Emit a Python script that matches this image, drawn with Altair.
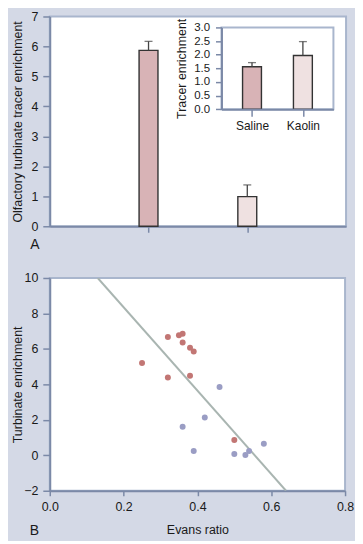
import altair as alt
import pandas as pd

# ---------------- data ----------------
groups = ["Saline", "Kaolin"]
olfactory_mean = [5.87, 0.99]
olfactory_err = [0.30, 0.39]
tracer_mean = [1.56, 1.97]
tracer_err = [0.15, 0.51]

saline_x = [0.25, 0.32, 0.35, 0.36, 0.36, 0.38, 0.39, 0.32, 0.38, 0.50]
saline_y = [5.20, 6.67, 6.77, 6.86, 6.36, 6.06, 5.85, 4.39, 4.49, 0.86]
kaolin_x = [0.46, 0.42, 0.36, 0.39, 0.50, 0.53, 0.54, 0.58]
kaolin_y = [3.85, 2.13, 1.61, 0.24, 0.07, 0.02, 0.24, 0.65]
fit_x = [0.13, 0.64]
fit_y = [10.0, -2.0]

yA_ticks = [0, 1, 2, 3, 4, 5, 6, 7]
inset_ticks = [0.0, 0.5, 1.0, 1.5, 2.0, 2.5, 3.0]
xB_ticks = [0.0, 0.2, 0.4, 0.6, 0.8]
yB_ticks = [-2, 0, 2, 4, 6, 8, 10]

# ---------------- styling ----------------
FONT = "Liberation Sans"
TXT = "#1a1a1a"
AXIS_C = "#7b89a7"
FRAME_C = "#a9b6cd"
BG = "#d4d9e6"
SAL_BAR = "#d8b3b6"
KAO_BAR = "#efe1e1"
SAL_PT = "#c27674"
KAO_PT = "#9a9dc4"
FIT_C = "#a9b5b1"

W_A, H_A = 298, 211
W_B, H_B = 297, 214
IX0, IX1 = 172.7, 285.3   # inset box (pixels inside panel A)
IY0, IY1 = 93.3, 11.0

bar_df = pd.DataFrame({
    "group": groups,
    "mean": olfactory_mean,
    "top": [m + e for m, e in zip(olfactory_mean, olfactory_err)],
})
inset_df = pd.DataFrame({
    "group": groups,
    "mean": tracer_mean,
    "top": [m + e for m, e in zip(tracer_mean, tracer_err)],
})
color_scale = alt.Scale(domain=groups, range=[SAL_BAR, KAO_BAR])

yaxis_common = dict(minExtent=25, maxExtent=25, titlePadding=0, tickSize=7, labelPadding=5,
                    labelOverlap=False, labelFontSize=12.5)

# ----- panel A main -----
xA_scale = alt.Scale(type="point", domain=groups, padding=1)
xA_axis = alt.Axis(labels=False, title=None, tickSize=6)
yA_scale = alt.Scale(domain=[0, 7])
yA_axis = alt.Axis(values=yA_ticks, title="Olfactory turbinate tracer enrichment", **yaxis_common)


def xa(f):
    return alt.X(f, scale=xA_scale, axis=xA_axis)


def ya(f):
    return alt.Y(f, scale=yA_scale, axis=yA_axis)


main_bars = alt.Chart(bar_df).mark_bar(size=19, stroke="#333333", strokeWidth=1.4).encode(
    x=xa("group:N"), y=ya("mean:Q"), color=alt.Color("group:N", scale=color_scale, legend=None))
main_rule = alt.Chart(bar_df).mark_rule(color="#444444", strokeWidth=1.3).encode(
    x=xa("group:N"), y=ya("mean:Q"), y2="top:Q")
main_cap = alt.Chart(bar_df).mark_tick(color="#444444", size=8, thickness=1.3).encode(
    x=xa("group:N"), y=ya("top:Q"))
letterA = alt.Chart(pd.DataFrame({"t": ["A"]})).mark_text(
    font=FONT, fontSize=14, color=TXT, align="center", baseline="alphabetic").encode(
    x=alt.value(-15), y=alt.value(H_A + 23), text="t:N")
main_layer = alt.layer(main_bars, main_rule, main_cap, letterA)

# ----- inset -----
xI_scale = alt.Scale(type="point", domain=groups, range=[IX0, IX1], padding=0.6)
xI_axis = alt.Axis(orient="bottom", offset=-(H_A - IY0), title=None, tickSize=7,
                   labelPadding=4, labelFontSize=12, labelAngle=0, zindex=2)
yI_scale = alt.Scale(domain=[0, 3], range=[IY0, IY1])
yI_axis = alt.Axis(orient="left", offset=-IX0, values=inset_ticks, format=".1f",
                   title="Tracer enrichment", tickSize=6, labelPadding=6, titlePadding=5,
                   labelFontSize=11.5, labelOverlap=False, zindex=2)


def xi(f):
    return alt.X(f, scale=xI_scale, axis=xI_axis)


def yi(f):
    return alt.Y(f, scale=yI_scale, axis=yI_axis)


inset_frame = alt.Chart(pd.DataFrame({"a": [0]})).mark_rect(
    fill="white", stroke=FRAME_C, strokeWidth=2).encode(
    x=alt.value(IX0), x2=alt.value(IX1), y=alt.value(IY1), y2=alt.value(IY0))
inset_bars = alt.Chart(inset_df).mark_bar(size=19, stroke="#333333", strokeWidth=1.4).encode(
    x=xi("group:N"), y=yi("mean:Q"), color=alt.Color("group:N", scale=color_scale, legend=None))
inset_rule = alt.Chart(inset_df).mark_rule(color="#444444", strokeWidth=1.3).encode(
    x=xi("group:N"), y=yi("mean:Q"), y2="top:Q")
inset_cap = alt.Chart(inset_df).mark_tick(color="#444444", size=8, thickness=1.3).encode(
    x=xi("group:N"), y=yi("top:Q"))
inset_layer = alt.layer(inset_frame, inset_bars, inset_rule, inset_cap)

panelA = alt.layer(main_layer, inset_layer).resolve_scale(
    x="independent", y="independent", color="shared").properties(width=W_A, height=H_A)

# ----- panel B -----
sal_pts = pd.DataFrame({"x": saline_x, "y": saline_y})
kao_pts = pd.DataFrame({"x": kaolin_x, "y": kaolin_y})
fit = pd.DataFrame({"x": fit_x, "y": fit_y})
xB = alt.X("x:Q", scale=alt.Scale(domain=[0, 0.8]),
           axis=alt.Axis(values=xB_ticks, format=".1f", title="Evans ratio", tickSize=5,
                         labelPadding=5, titlePadding=10, labelFlush=False, labelOverlap=False,
                         labelFontSize=12.5))
yB = alt.Y("y:Q", scale=alt.Scale(domain=[-2, 10]),
           axis=alt.Axis(values=yB_ticks, title="Turbinate enrichment", **yaxis_common))
fit_line = alt.Chart(fit).mark_line(color=FIT_C, strokeWidth=2, clip=True).encode(x=xB, y=yB)
sal_sc = alt.Chart(sal_pts).mark_circle(size=36, opacity=1, color=SAL_PT).encode(x=xB, y=yB)
kao_sc = alt.Chart(kao_pts).mark_circle(size=36, opacity=1, color=KAO_PT).encode(x=xB, y=yB)
letterB = alt.Chart(pd.DataFrame({"t": ["B"]})).mark_text(
    font=FONT, fontSize=14, color=TXT, align="center", baseline="alphabetic").encode(
    x=alt.value(-15.5), y=alt.value(H_B + 45), text="t:N")
panelB = alt.layer(fit_line, sal_sc, kao_sc, letterB).properties(width=W_B, height=H_B)

chart = alt.vconcat(panelA, panelB, spacing=18).properties(
    background=BG, padding={"left": 3, "top": 0, "right": 0, "bottom": 0}
).configure_view(
    stroke=FRAME_C, strokeWidth=2, fill="white"
).configure_axis(
    labelFont=FONT, labelFontSize=12.5, labelColor=TXT,
    titleFont=FONT, titleFontSize=12.5, titleFontWeight="normal", titleColor=TXT,
    domainColor=AXIS_C, domainWidth=2, tickColor=AXIS_C, tickWidth=1.5, grid=False,
)

chart.save("out.html", embed_options={"renderer": "svg", "actions": False})
